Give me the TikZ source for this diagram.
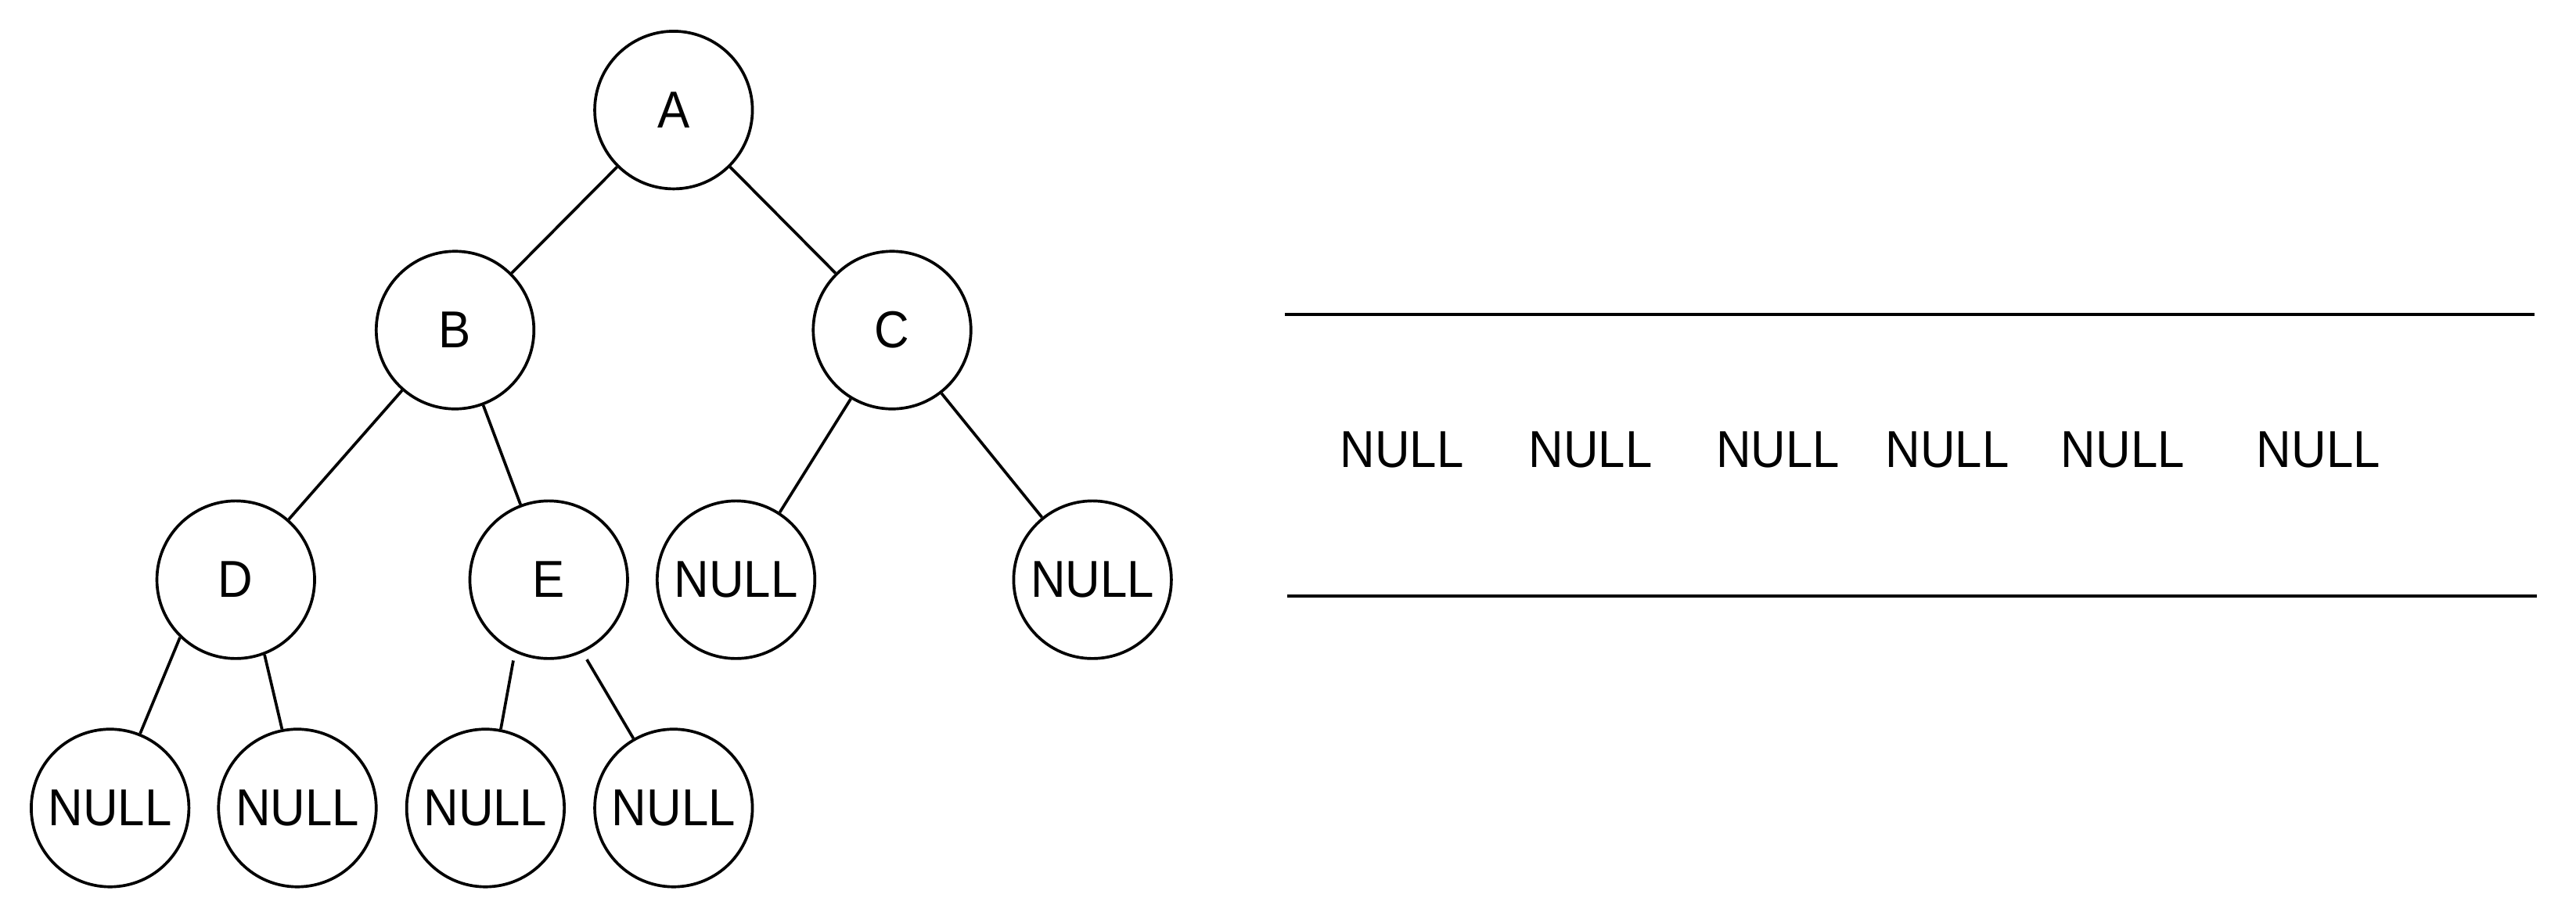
\documentclass[tikz,border=0pt]{standalone}
\usepackage{fontspec}
\setmainfont{Liberation Sans}[FakeStretch=0.93]

\begin{document}
\begin{tikzpicture}[x=0.02cm, y=-0.02cm, line width=1pt,
    tnode/.style={draw, circle, minimum size=1.92cm, inner sep=0pt, font=\fontsize{18}{20}\selectfont},
    qtext/.style={inner sep=0pt, font=\fontsize{18}{20}\selectfont}]
    \useasboundingbox (0,0) rectangle (1568,562);

    % Tree
    \node[tnode] (a) at (410,67) {A};
    \node[tnode] (b) at (277,201) {B};
    \node[tnode] (c) at (543,201) {C};
    \node[tnode] (d) at (143.5,353) {D};
    \node[tnode] (e) at (334,353) {E};
    \node[tnode] (cl) at (448,353) {NULL};
    \node[tnode] (cr) at (665,353) {NULL};
    \node[tnode] (dl) at (67,492) {NULL};
    \node[tnode] (dr) at (181,492) {NULL};
    \node[tnode] (el) at (295.5,492) {NULL};
    \node[tnode] (er) at (410,492) {NULL};

    % Edges
    \draw (a) -- (b);
    \draw (a) -- (c);
    \draw (b) -- (d);
    \draw (b) -- (e);
    \draw (c.239) -- (cl.57);
    \draw (c.308) -- (cr.129);
    \draw (d.226) -- (dl.68);
    \draw (d.291) -- (dr.101);
    \draw[shorten <=0.1cm] (e.245) -- (el.79);
    \draw[shorten <=0.1cm] (e.295) -- (er.120);

    % Queue
    \draw (782,191.5) -- (1542.7,191.5);
    \draw (783.5,363) -- (1544,363);
    \foreach \x [count=\i] in {853.4, 968.1, 1082.2, 1185.4, 1292.1, 1411.2}
        \node[qtext] (q\i) at (\x,274) {NULL};
\end{tikzpicture}
\end{document}
